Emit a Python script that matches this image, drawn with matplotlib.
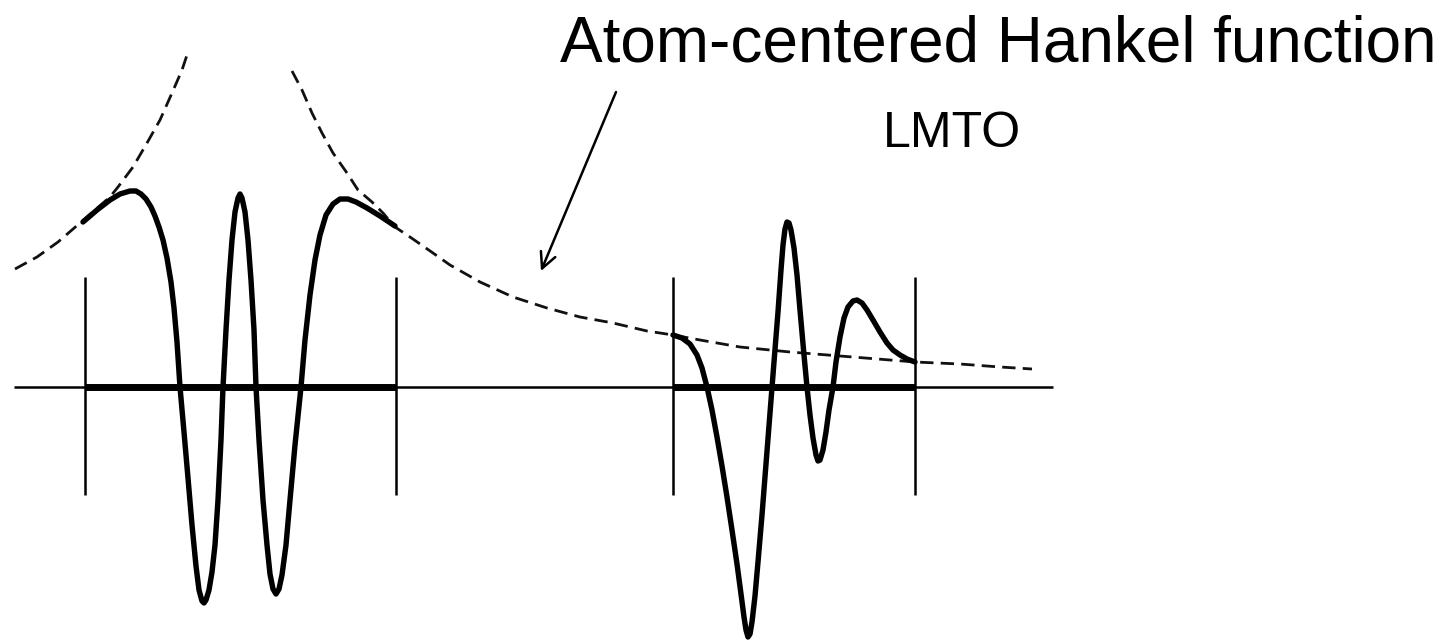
import matplotlib
matplotlib.use('Agg')
import matplotlib.pyplot as plt

# --- Werte (Pixelkoordinaten, y nach unten) ---
axis_x = [14, 1053]
axis_y = [387, 387]

# Atomkugeln: dicke Segmente auf der Achse
sphere_left_x = [85, 396]
sphere_right_x = [673, 915]
sphere_y = [387, 387]

# senkrechte Striche an den Kugelraendern
bar_x = [85, 396, 673, 915]
bar_top = [277, 277, 277, 277]
bar_bottom = [495, 495, 495, 495]

# gestrichelte Hankel-Funktion (zwei Aeste)
hankel_a_x = [15, 37, 58, 80, 110, 118, 133, 147, 160, 172, 182, 188]
hankel_a_y = [269, 257, 242, 223, 197, 187, 167, 143, 120, 93, 70, 52]

hankel_b_x = [292, 302, 312, 322, 333, 347, 358, 372, 383, 395, 410, 433, 450,
              480, 513, 547, 580, 613, 647, 673, 700, 740, 790, 840, 915, 960,
              1000, 1032]
hankel_b_y = [71, 90, 113, 133, 153, 173, 190, 202, 213, 227, 237, 253, 265,
              282, 297, 308, 317, 323, 331, 335, 340, 347, 352, 356, 362, 364,
              367, 369]

# LMTO am linken Atom
lmto_left_x = [83, 97, 110, 120, 130, 136, 141, 146, 151, 155, 159, 163, 167,
               171, 174, 177, 180, 184, 188, 192, 196, 199, 202, 204, 206, 209,
               212, 215, 218, 221, 223, 226, 229, 232, 235, 238, 240, 242, 245,
               248, 251, 254, 256, 259, 263, 267, 270, 273, 276, 279, 282, 286,
               290, 295, 301, 305, 310, 315, 320, 326, 333, 340, 348, 356, 367,
               380, 395]
lmto_left_y = [222, 210, 200, 194, 191, 191, 194, 199, 207, 216, 227, 240, 258,
               282, 308, 342, 387, 432, 478, 525, 566, 590, 601, 603, 600, 590,
               572, 545, 500, 440, 387, 330, 280, 240, 212, 198, 194, 198, 212,
               240, 280, 330, 387, 440, 500, 545, 574, 589, 594, 589, 575, 545,
               500, 445, 387, 340, 295, 260, 235, 215, 204, 199, 199, 202, 208,
               216, 226]

# LMTO am rechten Atom
lmto_right_x = [673, 682, 690, 697, 702, 707, 712, 717, 722, 727, 732, 737, 741,
                744, 746, 748, 750, 752, 755, 758, 762, 766, 770, 774, 778, 781,
                783, 785, 787, 789, 791, 794, 797, 800, 804, 807, 810, 813, 816,
                818, 820, 823, 826, 829, 833, 836, 840, 844, 848, 853, 857, 862,
                867, 873, 880, 887, 893, 900, 907, 915]
lmto_right_y = [335, 338, 344, 355, 368, 387, 410, 437, 466, 497, 530, 564, 594,
                617, 630, 637, 634, 622, 596, 562, 515, 464, 413, 362, 312, 270,
                245, 229, 222, 223, 230, 248, 275, 310, 355, 387, 415, 438, 455,
                461, 460, 450, 432, 410, 387, 362, 337, 318, 307, 301, 300, 303,
                310, 320, 332, 343, 350, 355, 359, 362]

# Pfeil von der Beschriftung zur Hankel-Funktion
arrow_tail = (616, 92)
arrow_tip = (541, 271)

title_text = "Atom-centered Hankel function"
title_pos = (560, 61)
label_text = "LMTO"
label_pos = (883, 147)

fig = plt.figure(figsize=(14.41, 6.44), dpi=100)
ax = fig.add_axes([0, 0, 1, 1])
ax.set_xlim(0, 1441)
ax.set_ylim(644, 0)
ax.axis('off')

# Achse und Kugeln
ax.plot(axis_x, axis_y, color='black', lw=1.8, solid_capstyle='butt')
ax.plot(sphere_left_x, sphere_y, color='black', lw=5, solid_capstyle='butt')
ax.plot(sphere_right_x, sphere_y, color='black', lw=5, solid_capstyle='butt')
ax.vlines(bar_x, bar_top, bar_bottom, color='black', lw=1.8)

# Hankel-Funktion gestrichelt
for hx, hy in [(hankel_a_x, hankel_a_y), (hankel_b_x, hankel_b_y)]:
    ax.plot(hx, hy, color='#111111', lw=2.0, dashes=(4.8, 2.6))

# LMTO-Kurven
ax.plot(lmto_left_x, lmto_left_y, color='black', lw=3.9,
        solid_joinstyle='round', solid_capstyle='round')
ax.plot(lmto_right_x, lmto_right_y, color='black', lw=3.9,
        solid_joinstyle='round', solid_capstyle='round')

ax.annotate('', xy=arrow_tip, xytext=arrow_tail,
            arrowprops=dict(arrowstyle='->', color='black', lw=1.8,
                            mutation_scale=28, shrinkA=0, shrinkB=0))

ax.text(title_pos[0], title_pos[1], title_text, fontsize=46,
        family='Liberation Sans', ha='left', va='baseline')
ax.text(label_pos[0], label_pos[1], label_text, fontsize=36,
        family='Liberation Sans', ha='left', va='baseline')

plt.savefig('out.png', dpi=100)
plt.close()
